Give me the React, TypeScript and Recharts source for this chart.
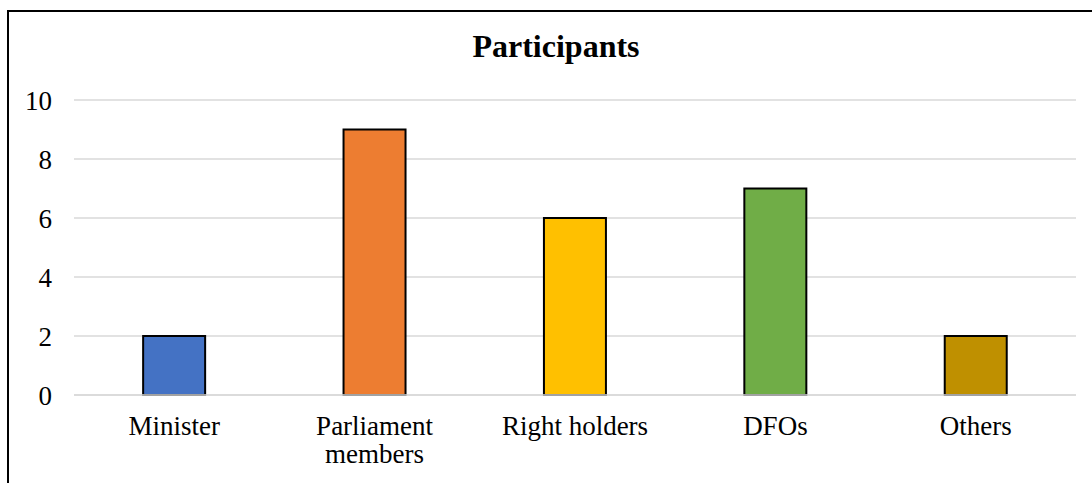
import { BarChart, Bar, XAxis, YAxis, CartesianGrid, Cell } from 'recharts';

const categories = ['Minister', 'Parliament members', 'Right holders', 'DFOs', 'Others'];
const participants = [2, 9, 6, 7, 2];
const barColors = ['#4472C4', '#ED7D31', '#FFC000', '#70AD47', '#BF9000'];
const yTicks = [0, 2, 4, 6, 8, 10];

const data = categories.map((name, i) => ({ name, value: participants[i] }));

const font = '"Liberation Serif", "Times New Roman", serif';
const labelSize = 27;
const maxChars = 14;

// greedy word wrap by character count
function wrap(label: string): string[] {
  const lines: string[] = [];
  let cur = '';
  for (const w of label.split(' ')) {
    const next = cur ? cur + ' ' + w : w;
    if (next.length > maxChars && cur) {
      lines.push(cur);
      cur = w;
    } else {
      cur = next;
    }
  }
  if (cur) lines.push(cur);
  return lines;
}

function CategoryTick(props: any) {
  const { x, y, payload } = props;
  const lines = wrap(String(payload.value));
  return (
    <text x={x} y={y} textAnchor="middle" fill="#000" fontSize={labelSize} fontFamily={font}>
      {lines.map((l, i) => (
        <tspan key={i} x={x} dy={i === 0 ? '0.71em' : 28}>
          {l}
        </tspan>
      ))}
    </text>
  );
}

export default function App() {
  return (
    <div style={{ position: 'absolute', left: 0, top: 0, width: 1092, height: 483, overflow: 'hidden', background: '#fff' }}>
      <div
        style={{
          position: 'absolute',
          left: 7,
          top: 10,
          width: 1120,
          height: 520,
          border: '2px solid #000',
        }}
      />
      <div
        style={{
          position: 'absolute',
          left: 0,
          top: 28,
          width: 1112,
          textAlign: 'center',
          fontFamily: font,
          fontWeight: 'bold',
          fontSize: 32,
          color: '#000',
        }}
      >
        Participants
      </div>
      <div style={{ position: 'absolute', left: 0, top: 0 }}>
        <BarChart
          width={1092}
          height={483}
          data={data}
          margin={{ top: 100, right: 16, left: 0, bottom: 58 }}
          barCategoryGap="34.5%"
        >
          <CartesianGrid vertical={false} stroke="#d9d9d9" strokeWidth={1.5} />
          <XAxis
            dataKey="name"
            axisLine={{ stroke: '#d9d9d9', strokeWidth: 1.5 }}
            tickLine={false}
            interval={0}
            tick={<CategoryTick />}
            tickMargin={15}
          />
          <YAxis
            domain={[0, 10]}
            ticks={yTicks}
            width={74}
            axisLine={false}
            tickLine={false}
            tickMargin={16}
            tick={{ fill: '#000', fontSize: labelSize, fontFamily: font }}
          />
          <Bar dataKey="value" stroke="#000" strokeWidth={2} isAnimationActive={false}>
            {data.map((d, i) => (
              <Cell key={d.name} fill={barColors[i]} />
            ))}
          </Bar>
        </BarChart>
      </div>
    </div>
  );
}
